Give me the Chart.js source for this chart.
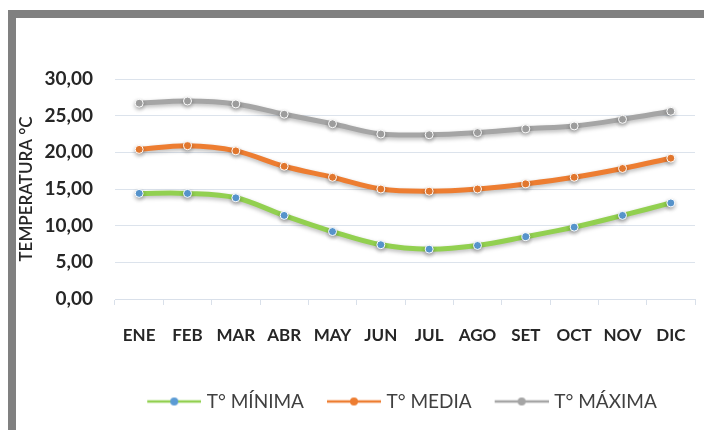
<!DOCTYPE html>
<html>
<head>
<meta charset="utf-8">
<script src="https://cdn.jsdelivr.net/npm/chart.js@4"></script>
<style>
  html, body { margin: 0; padding: 0; background: #fff; overflow: hidden; }
  #frame {
    position: absolute; left: 8px; top: 10px; width: 800px; height: 430px;
    border-top: 8px solid #808080; border-left: 8px solid #808080;
  }
  #wrap { position: absolute; left: 16px; top: 18px; width: 762px; height: 412px; }
</style>
</head>
<body>
<div id="frame"></div>
<div id="wrap"><canvas id="tempChart"></canvas></div>
<script>
// Data
const months = ['ENE', 'FEB', 'MAR', 'ABR', 'MAY', 'JUN', 'JUL', 'AGO', 'SET', 'OCT', 'NOV', 'DIC'];
const tMin = [14.4, 14.4, 13.8, 11.4, 9.2, 7.4, 6.8, 7.3, 8.5, 9.8, 11.4, 13.1];
const tMed = [20.4, 20.9, 20.2, 18.1, 16.6, 15.0, 14.7, 15.0, 15.7, 16.6, 17.8, 19.2];
const tMax = [26.7, 27.0, 26.6, 25.2, 23.9, 22.5, 22.4, 22.7, 23.2, 23.6, 24.5, 25.6];
const yTickLabels = ['0,00', '5,00', '10,00', '15,00', '20,00', '25,00', '30,00'];

// legend symbol: line with a dot in the middle (blank strip on the left = gap between items)
function legendSymbol(lineColor, dotColor) {
  const c = document.createElement('canvas');
  c.width = 71; c.height = 12;
  const g = c.getContext('2d');
  g.strokeStyle = lineColor;
  g.lineWidth = 2.5;
  g.beginPath();
  g.moveTo(17, 6); g.lineTo(71, 6);
  g.stroke();
  g.fillStyle = dotColor;
  g.beginPath();
  g.arc(44, 6, 4, 0, Math.PI * 2);
  g.fill();
  return c;
}

const shadow = {
  id: 'shadow',
  beforeDatasetDraw(chart) {
    const c = chart.ctx;
    c.save();
    c.shadowColor = 'rgba(0,0,0,0.28)';
    c.shadowBlur = 4;
    c.shadowOffsetY = 2;
  },
  afterDatasetDraw(chart) {
    chart.ctx.restore();
  }
};

// nudge the legend to the right, like the original
const legendShift = {
  id: 'legendShift',
  afterLayout(chart) {
    chart.legend.left += 40;
    chart.legend.right += 40;
  }
};

function series(label, values, line, dot) {
  return {
    label: label,
    data: values,
    borderColor: line,
    backgroundColor: dot,
    borderWidth: 5,
    tension: 0.35,
    pointRadius: 4,
    pointBackgroundColor: dot,
    pointBorderColor: '#ffffff',
    pointBorderWidth: 1,
    symbol: legendSymbol(line, dot)
  };
}

const ctx = document.getElementById('tempChart').getContext('2d');

new Chart(ctx, {
  type: 'line',
  data: {
    labels: months,
    datasets: [
      series('T° MÍNIMA', tMin, '#92D050', '#5B9BD5'),
      series('T° MEDIA', tMed, '#ED7D31', '#ED7D31'),
      series('T° MÁXIMA', tMax, '#A5A5A5', '#A5A5A5')
    ]
  },
  plugins: [shadow, legendShift],
  options: {
    responsive: true,
    maintainAspectRatio: false,
    animation: false,
    layout: { padding: { top: 61, right: 83, left: 0, bottom: 9 } },
    plugins: {
      tooltip: { enabled: false },
      legend: {
        position: 'bottom',
        labels: {
          usePointStyle: true,
          pointStyleWidth: 63,
          padding: 10,
          color: '#404040',
          font: { family: 'Lato', size: 19 },
          generateLabels(chart) {
            return chart.data.datasets.map((ds, i) => ({
              text: ds.label,
              pointStyle: ds.symbol,
              fontColor: '#404040',
              hidden: false,
              datasetIndex: i,
              lineWidth: 0,
              strokeStyle: 'transparent',
              fillStyle: 'transparent'
            }));
          }
        }
      }
    },
    scales: {
      x: {
        offset: true,
        grid: {
          offset: true,
          drawOnChartArea: false,
          drawTicks: true,
          tickLength: 6,
          color: '#D9E0EA'
        },
        border: { color: '#D9E0EA' },
        ticks: {
          padding: 20,
          color: '#262626',
          font: { family: 'Lato', size: 17, weight: 'bold' }
        },
        afterFit(scale) { scale.height = 83; }
      },
      y: {
        min: 0,
        max: 30,
        border: { display: false },
        grid: { color: '#DCE3EC', drawTicks: false },
        ticks: {
          stepSize: 5,
          padding: 22,
          color: '#262626',
          font: { family: 'Lato', size: 19, weight: 'bold' },
          callback: (v) => yTickLabels[v / 5]
        },
        title: {
          display: true,
          text: 'TEMPERATURA °C',
          color: '#262626',
          padding: 0,
          font: { family: 'Lato', size: 17, weight: '600' }
        },
        afterFit(scale) { scale.width = 99; }
      }
    }
  }
});
</script>
</body>
</html>
